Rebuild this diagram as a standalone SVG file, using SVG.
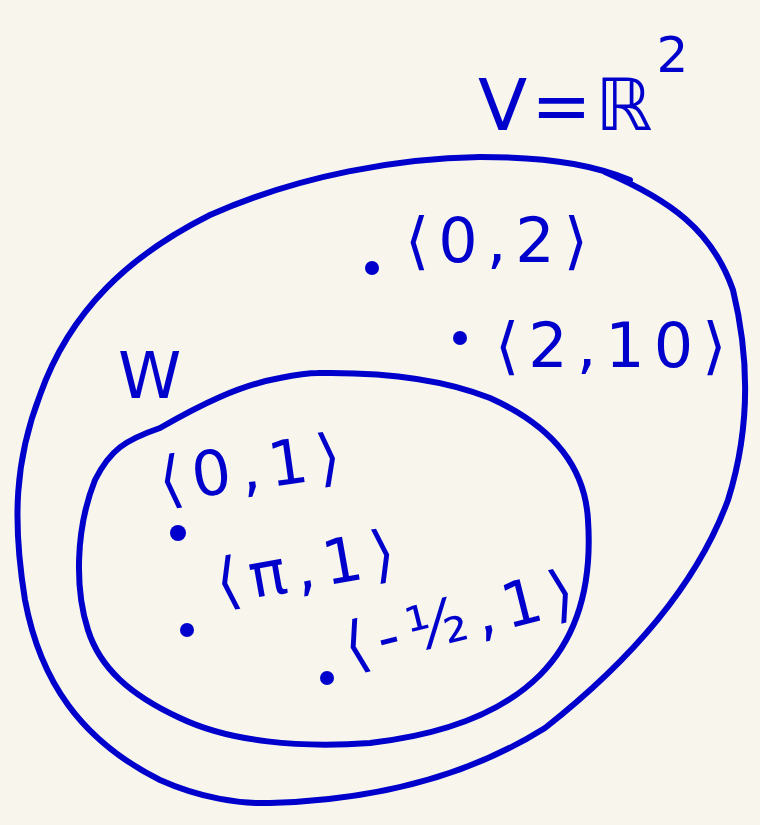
<svg xmlns="http://www.w3.org/2000/svg" width="760" height="825" viewBox="0 0 760 825">
<style>
.set{fill:none;stroke:#0000cc;stroke-width:6;stroke-linecap:round;stroke-linejoin:round}
.lbl{fill:#0000cc;font-family:"DejaVu Sans","Noto Sans",sans-serif;font-weight:normal;letter-spacing:9px}
.dot{fill:#0000cc}
</style>
<rect width="760" height="825" fill="#f8f6ec"/>
<g id="connectors"></g>
<g id="V">
<path class="set" d="M630,180 C600,168 560,157 480,157 C400,158 300,175 210,215 C130,255 70,310 40,395 C15,460 12,520 25,600 C40,680 80,740 160,780 C200,798 240,804 270,803 C380,800 470,775 545,728 C625,665 695,590 728,500 C750,430 750,360 733,290 C712,230 670,200 605,172"/>
<text class="lbl" x="478" y="130" font-size="72" style="letter-spacing:4px">V=ℝ<tspan font-size="50" dy="-58">2</tspan></text>
</g>
<g id="W">
<path class="set" d="M318,373 C380,372 440,378 490,398 C550,425 585,465 588,520 C592,580 580,635 540,675 C500,715 440,735 370,743 C300,748 230,742 180,718 C130,695 100,668 88,630 C75,590 75,530 95,480 C110,450 125,440 160,428 C200,405 240,385 280,378 C295,375 305,373 318,373"/>
<text class="lbl" x="118" y="398" font-size="64">W</text>
</g>
<g id="p02">
<circle class="dot" cx="372" cy="268" r="7"/>
<text class="lbl" x="405" y="262" font-size="62">⟨0,2⟩</text>
</g>
<g id="p210">
<circle class="dot" cx="460" cy="338" r="7"/>
<text class="lbl" x="495" y="367" font-size="62">⟨2,10⟩</text>
</g>
<g id="p01">
<circle class="dot" cx="178" cy="533" r="8"/>
<text class="lbl" x="162" y="502" font-size="62" transform="rotate(-8 162 502)">⟨0,1⟩</text>
</g>
<g id="ppi">
<circle class="dot" cx="187" cy="630" r="7"/>
<text class="lbl" x="220" y="604" font-size="62" transform="rotate(-10 220 604)">⟨π,1⟩</text>
</g>
<g id="phalf">
<circle class="dot" cx="327" cy="678" r="7"/>
<text class="lbl" x="350" y="668" font-size="62" transform="rotate(-14 350 668)">⟨-½,1⟩</text>
</g>
</svg>
